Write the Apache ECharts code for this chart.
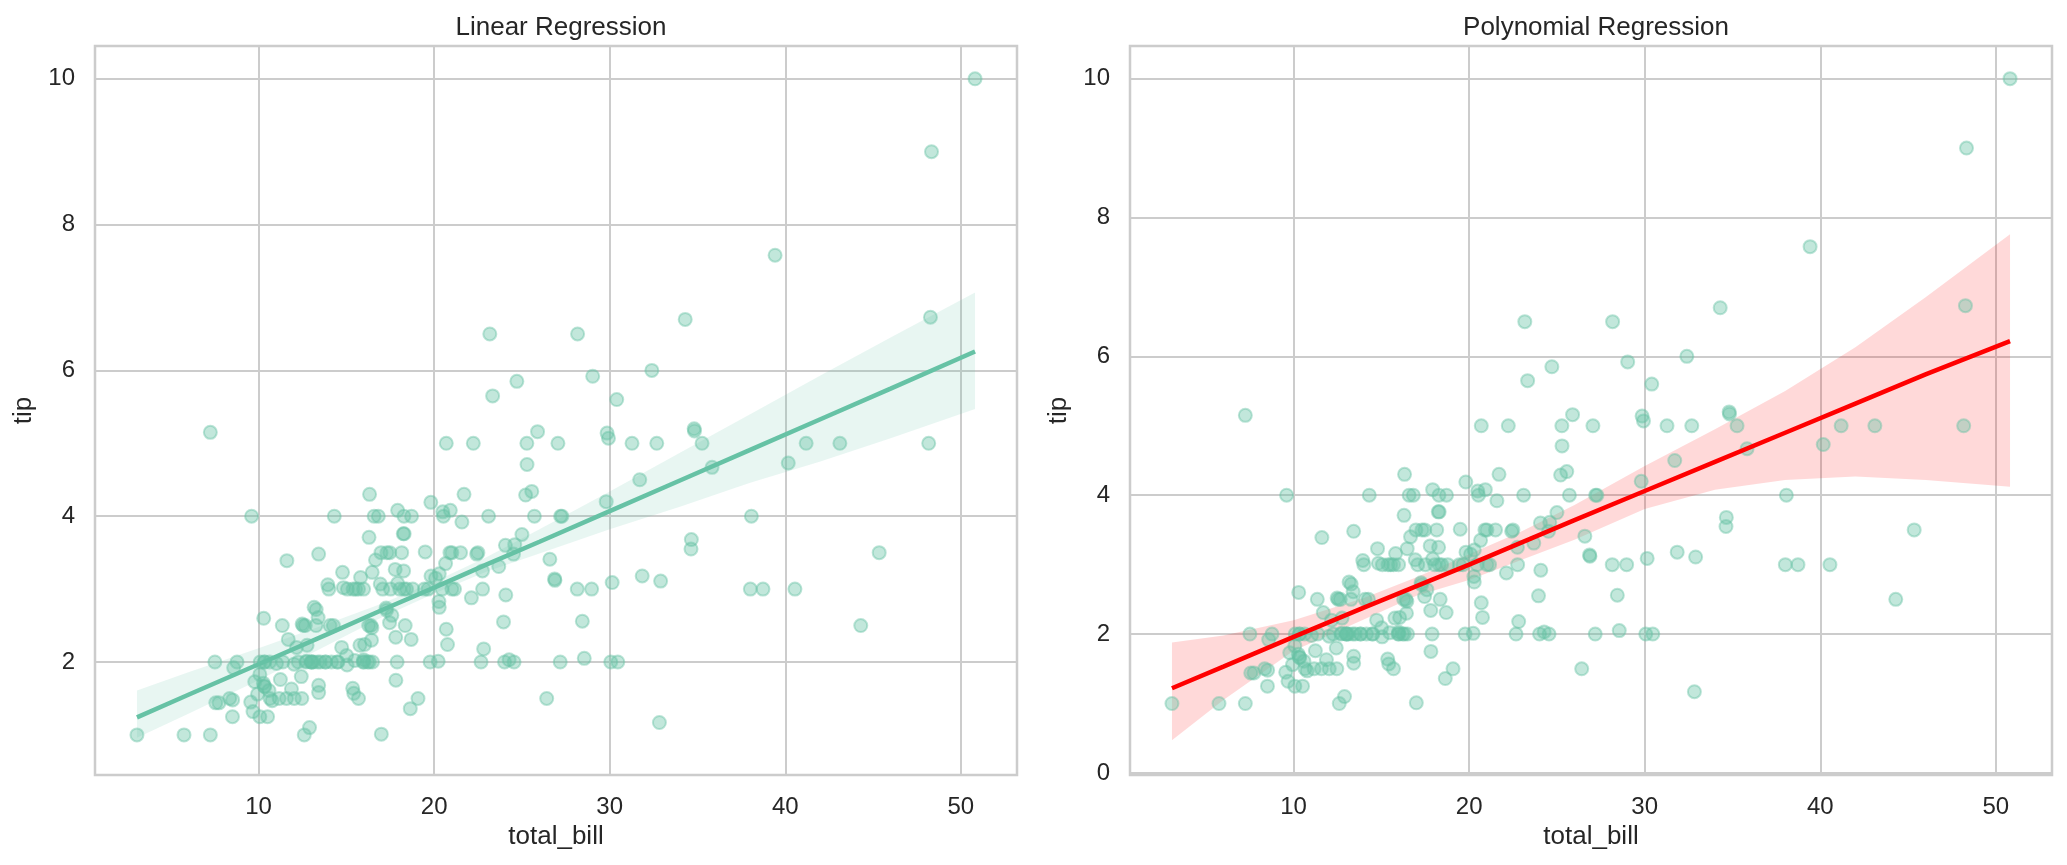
<!DOCTYPE html>
<html>
<head>
<meta charset="utf-8">
<script src="https://cdn.jsdelivr.net/npm/echarts@6/dist/echarts.min.js"></script>
<style>
  html, body { margin: 0; padding: 0; background: #fff; }
  #chart { width: 2067px; height: 865px; }
</style>
</head>
<body>
<div id="chart"></div>
<script>
// tips data: total_bill / tip
const totalBill = [
  16.99, 10.34, 21.01, 23.68, 24.59, 25.29, 8.77, 26.88, 15.04, 14.78,
  10.27, 35.26, 15.42, 18.43, 14.83, 21.58, 10.33, 16.29, 16.97, 20.65,
  17.92, 20.29, 15.77, 39.42, 19.82, 17.81, 13.37, 12.69, 21.70, 19.65,
  9.55, 18.35, 15.06, 20.69, 17.78, 24.06, 16.31, 16.93, 18.69, 31.27,
  16.04, 17.46, 13.94, 9.68, 30.40, 18.29, 22.23, 32.40, 28.55, 18.04,
  12.54, 10.29, 34.81, 9.94, 25.56, 19.49, 38.01, 26.41, 11.24, 48.27,
  20.29, 13.81, 11.02, 18.29, 17.59, 20.08, 16.45, 3.07, 20.23, 15.01,
  12.02, 17.07, 26.86, 25.28, 14.73, 10.51, 17.92, 27.20, 22.76, 17.29,
  19.44, 16.66, 10.07, 32.68, 15.98, 34.83, 13.03, 18.28, 24.71, 21.16,
  28.97, 22.49, 5.75, 16.32, 22.75, 40.17, 27.28, 12.03, 21.01, 12.46,
  11.35, 15.38, 44.30, 22.42, 20.92, 15.36, 20.49, 25.21, 18.24, 14.31,
  14.00, 7.25, 38.07, 23.95, 25.71, 17.31, 29.93, 10.65, 12.43, 24.08,
  11.69, 13.42, 14.26, 15.95, 12.48, 29.80, 8.52, 14.52, 11.38, 22.82,
  19.08, 20.27, 11.17, 12.26, 18.26, 8.51, 10.33, 14.15, 16.00, 13.16,
  17.47, 34.30, 41.19, 27.05, 16.43, 8.35, 18.64, 11.87, 9.78, 7.51,
  14.07, 13.13, 17.26, 24.55, 19.77, 29.85, 48.17, 25.00, 13.39, 16.49,
  21.50, 12.66, 16.21, 13.81, 17.51, 24.52, 20.76, 31.71, 10.59, 10.63,
  50.81, 15.81, 7.25, 31.85, 16.82, 32.90, 17.89, 14.48, 9.60, 34.63,
  34.65, 23.33, 45.35, 23.17, 40.55, 20.69, 20.90, 30.46, 18.15, 23.10,
  15.69, 19.81, 28.44, 15.48, 16.58, 7.56, 10.34, 43.11, 13.00, 13.51,
  18.71, 12.74, 13.00, 16.40, 20.53, 16.47, 26.59, 38.73, 24.27, 12.76,
  30.06, 25.89, 48.33, 13.27, 28.17, 12.90, 28.15, 11.59, 7.74, 30.14,
  12.16, 13.42, 8.58, 15.98, 13.42, 16.27, 10.09, 20.45, 13.28, 22.12,
  24.01, 15.69, 11.61, 10.77, 15.53, 10.07, 12.60, 32.83, 35.83, 29.03,
  27.18, 22.67, 17.82, 18.78
];
const tip = [
  1.01, 1.66, 3.50, 3.31, 3.61, 4.71, 2.00, 3.12, 1.96, 3.23,
  1.71, 5.00, 1.57, 3.00, 3.02, 3.92, 1.67, 3.71, 3.50, 3.35,
  4.08, 2.75, 2.23, 7.58, 3.18, 2.34, 2.00, 2.00, 4.30, 3.00,
  1.45, 2.50, 3.00, 2.45, 3.27, 3.60, 2.00, 3.07, 2.31, 5.00,
  2.24, 2.54, 3.06, 1.32, 5.60, 3.00, 5.00, 6.00, 2.05, 3.00,
  2.50, 2.60, 5.20, 1.56, 4.34, 3.51, 3.00, 1.50, 1.76, 6.73,
  3.21, 2.00, 1.98, 3.76, 2.64, 3.15, 2.47, 1.00, 2.01, 2.09,
  1.97, 3.00, 3.14, 5.00, 2.20, 1.25, 3.08, 4.00, 3.00, 2.71,
  3.00, 3.40, 1.83, 5.00, 2.03, 5.17, 2.00, 4.00, 5.85, 3.00,
  3.00, 3.50, 1.00, 4.30, 3.25, 4.73, 4.00, 1.50, 3.00, 1.50,
  2.50, 3.00, 2.50, 3.48, 4.08, 1.64, 4.06, 4.29, 3.76, 4.00,
  3.00, 1.00, 4.00, 2.55, 4.00, 3.50, 5.07, 1.50, 1.80, 2.92,
  2.31, 1.68, 2.50, 2.00, 2.52, 4.20, 1.48, 2.00, 2.00, 2.18,
  1.50, 2.83, 1.50, 2.00, 3.25, 1.25, 2.00, 2.00, 2.00, 2.75,
  3.50, 6.70, 5.00, 5.00, 2.30, 1.50, 1.36, 1.63, 1.73, 2.00,
  2.50, 2.00, 2.74, 2.00, 2.00, 5.14, 5.00, 3.75, 2.61, 2.00,
  3.50, 2.50, 2.00, 2.00, 3.00, 3.48, 2.24, 4.50, 1.61, 2.00,
  10.00, 3.16, 5.15, 3.18, 4.00, 3.11, 2.00, 2.00, 4.00, 3.55,
  3.68, 5.65, 3.50, 6.50, 3.00, 5.00, 3.50, 2.00, 3.50, 4.00,
  1.50, 4.19, 2.56, 2.02, 4.00, 1.44, 2.00, 5.00, 2.00, 2.00,
  4.00, 2.01, 2.00, 2.50, 4.00, 3.23, 3.41, 3.00, 2.03, 2.23,
  2.00, 5.16, 9.00, 2.50, 6.50, 1.10, 3.00, 1.50, 1.44, 3.09,
  2.20, 3.48, 1.92, 3.00, 1.58, 2.50, 2.00, 3.00, 2.72, 2.88,
  2.00, 3.00, 3.39, 1.47, 3.00, 1.25, 1.00, 1.17, 4.67, 5.92,
  2.00, 2.00, 1.75, 3.00
];

// fitted lines and confidence bands
const linX = [3.07, 6, 10, 14, 17, 20, 23, 26, 30, 34, 38, 42, 46, 50.81];
const linFit = [1.24, 1.55, 1.97, 2.39, 2.71, 3.02, 3.34, 3.65, 4.07, 4.49, 4.91, 5.33, 5.75, 6.26];
const linUpper = [1.61, 1.86, 2.19, 2.53, 2.80, 3.10, 3.44, 3.82, 4.34, 4.87, 5.40, 5.93, 6.45, 7.07];
const linLower = [0.96, 1.29, 1.75, 2.24, 2.61, 2.94, 3.24, 3.49, 3.82, 4.13, 4.46, 4.75, 5.07, 5.47];

const polyX = [3.07, 6, 10, 14, 17, 20, 23, 26, 30, 34, 38, 42, 46, 50.81];
const polyFit = [1.22, 1.53, 1.96, 2.38, 2.69, 3.00, 3.32, 3.64, 4.06, 4.48, 4.90, 5.32, 5.74, 6.22];
const polyUpper = [1.88, 1.98, 2.20, 2.52, 2.82, 3.15, 3.48, 3.86, 4.42, 4.95, 5.50, 6.13, 6.85, 7.76];
const polyLower = [0.47, 1.05, 1.76, 2.21, 2.55, 2.78, 3.07, 3.36, 3.80, 4.08, 4.22, 4.27, 4.22, 4.12];

const xTicks = [10, 20, 30, 40, 50];
const yTicksLeft = [2, 4, 6, 8, 10];
const yTicksRight = [0, 2, 4, 6, 8, 10];

const FONT = "'Liberation Sans', Arial, sans-serif";
const TEXT = "#262626";
const GRIDC = "#cccccc";
const GREEN = "#66c2a5";

const points = totalBill.map((x, i) => [x, tip[i]]);

function xAxisOpt(gridIndex) {
  return {
    type: "value",
    gridIndex,
    min: 0.68,
    max: 53.2,
    name: "total_bill",
    nameLocation: "middle",
    nameGap: 47,
    nameTextStyle: { fontFamily: FONT, fontSize: 26, color: TEXT },
    axisLine: { show: false },
    axisTick: { show: false, customValues: xTicks },
    axisLabel: { customValues: xTicks, margin: 20, fontFamily: FONT, fontSize: 24, color: TEXT },
    splitLine: { show: true, lineStyle: { color: GRIDC, width: 2 } },
  };
}

function yAxisOpt(gridIndex, min, max, ticks) {
  return {
    type: "value",
    gridIndex,
    min,
    max,
    name: "tip",
    nameLocation: "middle",
    nameGap: 58,
    nameTextStyle: { fontFamily: FONT, fontSize: 26, color: TEXT },
    axisLine: { show: false },
    axisTick: { show: false, customValues: ticks },
    axisLabel: { customValues: ticks, margin: 20, fontFamily: FONT, fontSize: 24, color: TEXT },
    splitLine: { show: true, lineStyle: { color: GRIDC, width: 2 } },
  };
}

function bandSeries(idx, xs, lower, upper, color) {
  return {
    type: "custom",
    xAxisIndex: idx,
    yAxisIndex: idx,
    silent: true,
    clip: true,
    data: xs.map((x, i) => [x, lower[i], upper[i]]),
    encode: { x: 0, y: [1, 2] },
    renderItem(params, api) {
      if (params.dataIndex !== 0) return null;
      const pts = [];
      xs.forEach((x, i) => pts.push(api.coord([x, upper[i]])));
      for (let i = xs.length - 1; i >= 0; i--) pts.push(api.coord([xs[i], lower[i]]));
      return {
        type: "polygon",
        shape: { points: pts },
        style: { fill: color },
      };
    },
  };
}

function scatterSeries(idx) {
  return {
    type: "scatter",
    xAxisIndex: idx,
    yAxisIndex: idx,
    data: points,
    symbolSize: 13,
    itemStyle: {
      color: "rgba(102,194,165,0.5)",
      borderColor: "rgba(102,194,165,0.55)",
      borderWidth: 2,
    },
  };
}

function lineSeries(idx, xs, ys, color) {
  return {
    type: "line",
    xAxisIndex: idx,
    yAxisIndex: idx,
    data: xs.map((x, i) => [x, ys[i]]),
    showSymbol: false,
    lineStyle: { color, width: 4.5 },
  };
}

const chart = echarts.init(document.getElementById("chart"));
chart.setOption({
  animation: false,
  backgroundColor: "#ffffff",
  title: [
    {
      text: "Linear Regression",
      left: 556,
      top: 10,
      textAlign: "center",
      textStyle: { fontFamily: FONT, fontSize: 26, fontWeight: "normal", color: TEXT },
    },
    {
      text: "Polynomial Regression",
      left: 1591,
      top: 10,
      textAlign: "center",
      textStyle: { fontFamily: FONT, fontSize: 26, fontWeight: "normal", color: TEXT },
    },
  ],
  grid: [
    { left: 95, right: 1050, top: 46, bottom: 90, show: true, borderColor: GRIDC, borderWidth: 2.5 },
    { left: 1130, right: 15, top: 46, bottom: 90, show: true, borderColor: GRIDC, borderWidth: 2.5 },
  ],
  xAxis: [xAxisOpt(0), xAxisOpt(1)],
  yAxis: [
    yAxisOpt(0, 0.45, 10.45, yTicksLeft),
    yAxisOpt(1, -0.03, 10.47, yTicksRight),
  ],
  series: [
    scatterSeries(0),
    bandSeries(0, linX, linLower, linUpper, "rgba(102,194,165,0.15)"),
    lineSeries(0, linX, linFit, GREEN),
    scatterSeries(1),
    bandSeries(1, polyX, polyLower, polyUpper, "rgba(255,0,0,0.15)"),
    lineSeries(1, polyX, polyFit, "#ff0000"),
  ],
});
</script>
</body>
</html>
